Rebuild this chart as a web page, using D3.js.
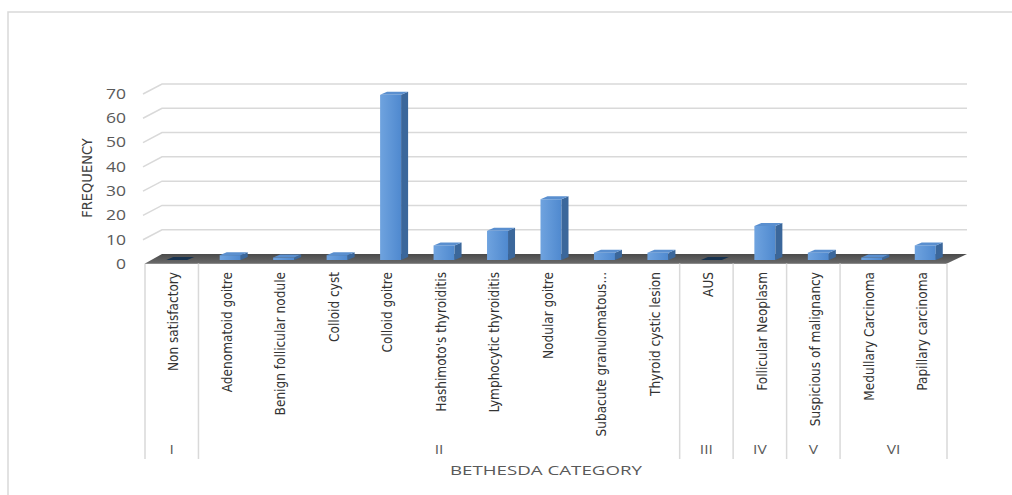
<!DOCTYPE html>
<html>
<head>
<meta charset="utf-8">
<script src="https://cdn.jsdelivr.net/npm/d3@7"></script>
<style>
  body { margin: 0; background: #fff; }
  .cond { font-family: "DejaVu Sans Condensed", "DejaVu Sans", sans-serif; font-stretch: condensed; }
  .wide { font-family: "Open Sans", sans-serif; }
</style>
</head>
<body>
<div id="container"></div>
<script>
const categories = ['Non satisfactory', 'Adenomatoid goitre', 'Benign follicular nodule', 'Colloid cyst', 'Colloid goitre',
  "Hashimoto's thyroiditis", 'Lymphocytic thyroiditis', 'Nodular goitre', 'Subacute granulomatous...', 'Thyroid cystic lesion',
  'AUS', 'Follicular Neoplasm', 'Suspicious of malignancy', 'Medullary Carcinoma', 'Papillary carcinoma'];

const frequency = [0, 2, 1, 2, 68, 6, 12, 25, 3, 3, 0, 14, 3, 1, 6];

// bethesda groups: label, first category index, number of categories
const groupNames = ['I', 'II', 'III', 'IV', 'V', 'VI'];
const groupStart = [0, 1, 10, 11, 12, 13];
const groupSize = [1, 9, 1, 1, 1, 2];

const yTicks = [0, 10, 20, 30, 40, 50, 60, 70];

const width = 1012;
const height = 495;

// 3d offsets of the chart box
const depthX = 17;
const depthY = 9.5;

const svg = d3.select('#container').append('svg')
  .attr('width', width)
  .attr('height', height);

const defs = svg.append('defs');
const grad = defs.append('linearGradient').attr('id', 'front').attr('x1', 0).attr('x2', 1).attr('y1', 0).attr('y2', 0);
grad.append('stop').attr('offset', '0%').attr('stop-color', '#6fa3df');
grad.append('stop').attr('offset', '100%').attr('stop-color', '#4f89cf');
const floorGrad = defs.append('linearGradient').attr('id', 'floor').attr('x1', 0).attr('x2', 0).attr('y1', 0).attr('y2', 1);
floorGrad.append('stop').attr('offset', '0%').attr('stop-color', '#4a4a4a');
floorGrad.append('stop').attr('offset', '100%').attr('stop-color', '#6a6a6a');

// chart frame
svg.append('path')
  .attr('d', `M8,${height} V12 H${width}`)
  .attr('fill', 'none')
  .attr('stroke', '#d9d9d9')
  .attr('stroke-width', 1.5);

const x = d3.scaleBand()
  .domain(categories)
  .range([145, 947])
  .paddingInner(0)
  .paddingOuter(0);

// y positions on the back wall
const y = d3.scaleLinear()
  .domain([0, 70])
  .range([254, 84]);

const backLeft = x.range()[0] + depthX;
const backRight = x.range()[1] + 20;

// gridlines (side wall diagonal + back wall)
svg.append('g')
  .selectAll('path')
  .data(yTicks.filter(t => t > 0))
  .enter()
  .append('path')
  .attr('d', t => `M${backLeft - 19},${y(t) + 10} L${backLeft},${y(t)} H${backRight}`)
  .attr('fill', 'none')
  .attr('stroke', '#d9d9d9')
  .attr('stroke-width', 1.5);

// y axis labels (wide face, stretched a bit)
svg.append('g')
  .selectAll('text')
  .data(yTicks)
  .enter()
  .append('text')
  .attr('class', 'wide')
  .attr('transform', t => `translate(126,${y(t) + 10}) scale(1.25,1)`)
  .attr('dy', '0.35em')
  .attr('text-anchor', 'end')
  .attr('font-size', 14)
  .attr('fill', '#595959')
  .text(t => t);

svg.append('text')
  .attr('class', 'cond')
  .attr('transform', 'translate(87,178) rotate(-90)')
  .attr('dy', '0.35em')
  .attr('text-anchor', 'middle')
  .attr('font-size', 14.5)
  .attr('fill', '#404040')
  .text('FREQUENCY');

// floor
const f0 = y(0);
svg.append('path')
  .attr('d', `M${x.range()[0]},${f0 + depthY} L${backLeft},${f0} H${backRight} L${x.range()[1]},${f0 + depthY} Z`)
  .attr('fill', 'url(#floor)');
svg.append('line')
  .attr('x1', x.range()[0]).attr('x2', x.range()[1])
  .attr('y1', f0 + depthY).attr('y2', f0 + depthY)
  .attr('stroke', '#8a8a8a')
  .attr('stroke-width', 1);

// bars
const barW = 21;
const sideX = 7;
const sideY = 3;
const base = f0 + 6;
const bars = svg.append('g')
  .selectAll('g')
  .data(categories.map((c, i) => ({ c, v: frequency[i] })))
  .enter()
  .append('g');

const bx = d => x(d.c) + x.bandwidth() / 2 - 5.5;
const barTop = d => y(d.v) + 6;

bars.filter(d => d.v > 0).append('rect')
  .attr('x', bx)
  .attr('y', barTop)
  .attr('width', barW)
  .attr('height', d => base - barTop(d))
  .attr('fill', 'url(#front)');

bars.filter(d => d.v > 0).append('path')
  .attr('d', d => `M${bx(d) + barW},${barTop(d)} l${sideX},${-sideY} V${base - sideY} l${-sideX},${sideY} Z`)
  .attr('fill', '#3b679b');

bars.append('path')
  .attr('d', d => `M${bx(d)},${barTop(d)} l${sideX},${-sideY} h${barW} l${-sideX},${sideY} Z`)
  .attr('fill', d => d.v > 0 ? '#5a8fcf' : '#17324f');

// category dividers
const divX = groupStart.map(s => x(categories[s])).concat([x.range()[1]]);
svg.append('g')
  .selectAll('line')
  .data(divX)
  .enter()
  .append('line')
  .attr('x1', d => d).attr('x2', d => d)
  .attr('y1', f0 + depthY).attr('y2', 459)
  .attr('stroke', '#d9d9d9')
  .attr('stroke-width', 1.5);

// category labels
svg.append('g')
  .selectAll('text')
  .data(categories)
  .enter()
  .append('text')
  .attr('class', 'cond')
  .attr('transform', c => `translate(${x(c) + x.bandwidth() / 2 + 2},272) rotate(-90)`)
  .attr('dy', '0.35em')
  .attr('text-anchor', 'end')
  .attr('font-size', 13.5)
  .attr('fill', '#333333')
  .text(c => c);

// group labels
svg.append('g')
  .selectAll('text')
  .data(groupNames)
  .enter()
  .append('text')
  .attr('class', 'wide')
  .attr('transform', (g, i) => `translate(${(divX[i] + divX[i + 1]) / 2},449) scale(1.2,1)`)
  .attr('dy', '0.35em')
  .attr('text-anchor', 'middle')
  .attr('font-size', 13)
  .attr('fill', '#595959')
  .text(g => g);

svg.append('text')
  .attr('class', 'wide')
  .attr('x', (x.range()[0] + x.range()[1]) / 2 - 96)
  .attr('y', 470)
  .attr('dy', '0.35em')
  .attr('font-size', 13)
  .attr('textLength', 192)
  .attr('lengthAdjust', 'spacingAndGlyphs')
  .attr('fill', '#595959')
  .text('BETHESDA CATEGORY');
</script>
</body>
</html>
